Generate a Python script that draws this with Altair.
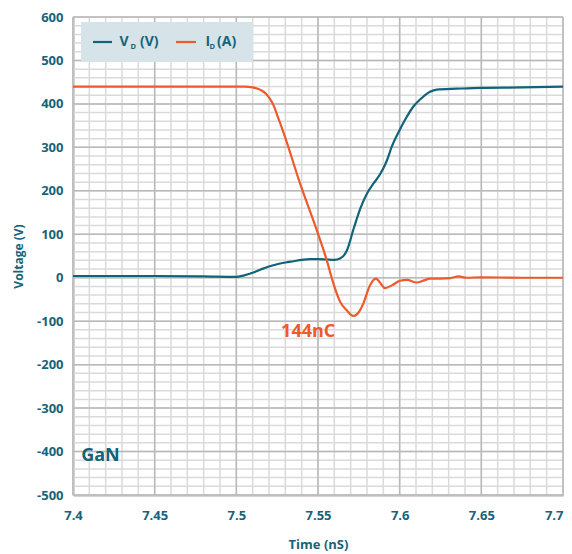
import altair as alt
import pandas as pd
import numpy as np

# ---- data ----
t_vd = [7.40, 7.45, 7.48, 7.50, 7.5043, 7.5104, 7.515, 7.52, 7.525, 7.53, 7.535, 7.54,
        7.545, 7.55, 7.555, 7.56, 7.5635, 7.5676, 7.572, 7.576, 7.58, 7.584, 7.588,
        7.592, 7.5951, 7.60, 7.604, 7.6084, 7.613, 7.6186, 7.6227, 7.635, 7.65,
        7.675, 7.70]
vd = [4, 4, 3, 2, 5, 12, 19, 26, 31, 35, 38, 41,
      43, 43, 42, 41, 44, 62, 115, 160, 194, 217, 238,
      268, 301, 340, 368, 394, 412, 428, 433, 435, 437,
      438, 440]

t_id = [7.40, 7.50, 7.505, 7.51, 7.513, 7.5155, 7.518, 7.5205, 7.523, 7.5255, 7.5288,
        7.539, 7.5492, 7.5553, 7.5594, 7.5635, 7.5676, 7.5716, 7.5757, 7.5778, 7.5815,
        7.5855, 7.5885, 7.591, 7.5955, 7.6002, 7.6045, 7.6104, 7.615, 7.6186, 7.625,
        7.631, 7.636, 7.641, 7.65, 7.675, 7.70]
id_ = [440, 440, 440, 438, 435, 431, 424, 412, 395, 369, 335,
       217, 110, 41, -13, -55, -75, -88, -75, -59, -20,
       -2, -14, -24, -17, -7, -5, -11, -6, -2, -2,
       -1, 3, 0, 1, 0, 0]

x_major = [7.40, 7.45, 7.50, 7.55, 7.60, 7.65, 7.70]
y_major = [-500, -400, -300, -200, -100, 0, 100, 200, 300, 400, 500, 600]
x_minor = [round(7.40 + 0.01 * k, 2) for k in range(31)]
y_minor = [-500 + 20 * k for k in range(56)]

TEAL = "#0f6479"
TEXT = "#16637a"
ORANGE = "#ef5a2b"
FONT = "Open Sans"

W, H = 490, 478

xs = alt.Scale(domain=[7.4, 7.7], nice=False, zero=False)
ys = alt.Scale(domain=[-500, 600], nice=False, zero=False)

df_v = pd.DataFrame({"t": t_vd, "v": vd})
df_i = pd.DataFrame({"t": t_id, "v": id_})

minor_x = alt.Chart(pd.DataFrame({"x": x_minor})).mark_rule(
    color="#dadada", strokeWidth=1.5).encode(x=alt.X("x:Q", scale=xs))
minor_y = alt.Chart(pd.DataFrame({"y": y_minor})).mark_rule(
    color="#dadada", strokeWidth=1.5).encode(y=alt.Y("y:Q", scale=ys))
major_x = alt.Chart(pd.DataFrame({"x": x_major})).mark_rule(
    color="#b9b9b9", strokeWidth=1.5).encode(x=alt.X("x:Q", scale=xs))
major_y = alt.Chart(pd.DataFrame({"y": y_major})).mark_rule(
    color="#b9b9b9", strokeWidth=1.5).encode(y=alt.Y("y:Q", scale=ys))

x_axis = alt.Axis(values=x_major, format="~g", grid=False, ticks=False,
                  labelFlush=False,
                  labelAlign={"condition": {"test": "datum.value >= 7.69", "value": "right"},
                              "value": "center"},
                  domainColor="#aaaaaa", domainWidth=2,
                  labelFont=FONT, labelFontSize=13, labelFontWeight="bold",
                  labelColor=TEXT, labelPadding=14,
                  title="Time (nS)", titleFont=FONT, titleFontSize=13,
                  titleFontWeight="bold", titleColor=TEXT,
                  titleBaseline="middle",
                  titleX=W / 2, titleY=49)
y_axis = alt.Axis(values=y_major, grid=False, ticks=False,
                  labelExpr="datum.value < 0 ? '-' + abs(datum.value) : '' + datum.value",
                  labelFlush=False,
                  domainColor="#aaaaaa", domainWidth=2,
                  labelFont=FONT, labelFontSize=13, labelFontWeight="bold",
                  labelColor=TEXT, labelPadding=10,
                  title="Voltage (V)", titleFont=FONT, titleFontSize=12,
                  titleFontWeight="bold", titleColor=TEXT,
                  titleBaseline="middle",
                  titleX=-55, titleY=H / 2)

line_v = alt.Chart(df_v).mark_line(color=TEAL, strokeWidth=2.2, interpolate="monotone").encode(
    x=alt.X("t:Q", scale=xs, axis=x_axis), y=alt.Y("v:Q", scale=ys, axis=y_axis))
line_i = alt.Chart(df_i).mark_line(color=ORANGE, strokeWidth=2.2, interpolate="monotone").encode(
    x=alt.X("t:Q", scale=xs), y=alt.Y("v:Q", scale=ys))

one = pd.DataFrame({"a": [0]})
leg_box = alt.Chart(one).mark_rect(color="#d6e3e9").encode(
    x=alt.value(8), x2=alt.value(180), y=alt.value(5), y2=alt.value(45))
leg_l1 = alt.Chart(one).mark_rule(color=TEAL, strokeWidth=2.2).encode(
    x=alt.value(20), x2=alt.value(39), y=alt.value(25))
leg_l2 = alt.Chart(one).mark_rule(color=ORANGE, strokeWidth=2.2).encode(
    x=alt.value(103), x2=alt.value(123), y=alt.value(25))

def txt(s, x, y, size, color=TEXT, align="left"):
    return alt.Chart(one).mark_text(text=s, font=FONT, fontSize=size, fontWeight="bold",
                                    color=color, align=align, baseline="middle").encode(
        x=alt.value(x), y=alt.value(y))

legend = [leg_box, leg_l1, leg_l2,
          txt("V", 46.5, 25, 14), txt("D", 57.5, 30, 7.5), txt("(V)", 67, 25, 14),
          txt("I", 132.5, 25, 14), txt("D", 136.5, 30, 7.5), txt("(A)", 144, 25, 14)]

ann1 = alt.Chart(one).mark_text(text="144nC", font=FONT, fontSize=18, fontWeight="bold",
                                color=ORANGE, align="center", baseline="middle").encode(
    x=alt.datum(7.544, scale=xs), y=alt.datum(-125, scale=ys))
ann2 = alt.Chart(one).mark_text(text="GaN", font=FONT, fontSize=18, fontWeight="bold",
                                color=TEAL, align="left", baseline="middle").encode(
    x=alt.datum(7.405, scale=xs), y=alt.datum(-411, scale=ys))

chart = alt.layer(minor_x, minor_y, major_x, major_y, line_v, line_i, *legend, ann1, ann2).properties(
    width=W, height=H,
    autosize=alt.AutoSizeParams(type="none"),
    padding={"left": 65, "top": 9, "right": 1, "bottom": 59},
).configure_view(stroke=None).configure(background="white")

chart.save("out.html", embed_options={"renderer": "svg", "actions": False})
